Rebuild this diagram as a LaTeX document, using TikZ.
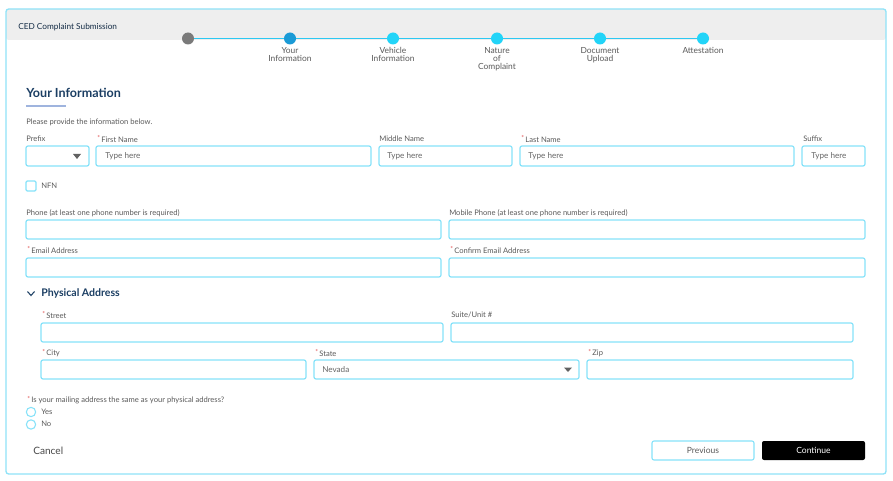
\documentclass[tikz,border=0pt]{standalone}
\usepackage{fontspec}
\setmainfont{Lato}
\definecolor{framec}{HTML}{8FE3F8}
\definecolor{fieldc}{HTML}{86E2F9}
\definecolor{headbg}{HTML}{EEEEEE}
\definecolor{linec}{HTML}{2CC8F2}
\definecolor{stepc}{HTML}{22D4F8}
\definecolor{activec}{HTML}{1A9AD6}
\definecolor{grayc}{HTML}{7A7A7A}
\definecolor{headc}{HTML}{1B3E63}
\definecolor{labc}{HTML}{5A5A5A}
\definecolor{phc}{HTML}{666666}
\definecolor{reqc}{HTML}{E04848}
\definecolor{ulc}{HTML}{9FB4DE}
\newcommand{\req}{{\color{reqc}\raisebox{0.3ex}{\fontsize{5}{5}\selectfont *}}\,}
\begin{document}
\begin{tikzpicture}[x=0.75pt,y=-0.75pt,
  lbl/.style={anchor=west, inner sep=0, text=labc, font=\fontsize{5.7}{7}\selectfont},
  ph/.style={anchor=west, inner sep=0, text=phc, font=\fontsize{6.1}{8}\selectfont},
  steplbl/.style={anchor=north, inner sep=0, align=center, text=labc, font=\fontsize{6.3}{6}\selectfont},
  stepdot/.style={circle, inner sep=0, minimum size=9pt, fill=stepc},
  field/.style={draw=fieldc, line width=0.9pt, rounded corners=1.5pt},
  heading/.style={anchor=west, inner sep=0, text=headc, font=\bfseries\fontsize{9.4}{11}\selectfont},
  radio/.style={circle, draw=fieldc, line width=0.8pt, inner sep=0, minimum size=7pt},
  btn/.style={rounded corners=1.5pt, minimum width=76.5pt, minimum height=14.25pt, inner sep=0, font=\fontsize{6.4}{8}\selectfont}
]
\useasboundingbox (0,0) rectangle (893,481);
\fill[white] (0,0) rectangle (893,481);
% frame and header
\fill[headbg, rounded corners=2pt] (6,9) rectangle (886,40);
\draw[framec, line width=1pt, rounded corners=2pt] (6,9) rectangle (886,474);
\node[anchor=west, inner sep=0, text=headc!70!black, font=\fontsize{6.2}{8}\selectfont] (title) at (18,27) {CED Complaint Submission};
% stepper
\coordinate (c0) at (188,38.5);
\coordinate (c5) at (703,38.5);
\draw[linec, line width=1.4pt] (c0) -- (c5);
\node[stepdot, fill=grayc] (s0) at (c0) {};
\node[stepdot, fill=activec] (s1) at (290,38.5) {};
\node[stepdot] (s2) at (393,38.5) {};
\node[stepdot] (s3) at (497,38.5) {};
\node[stepdot] (s4) at (600,38.5) {};
\node[stepdot] (s5) at (c5) {};
\node[steplbl] (l1) at (290,47.5) {Your\\Information};
\node[steplbl] (l2) at (393,47.5) {Vehicle\\Information};
\node[steplbl] (l3) at (497,47.5) {Nature\\of\\Complaint};
\node[steplbl] (l4) at (600,47.5) {Document\\Upload};
\node[steplbl] (l5) at (703,47.5) {Attestation};
% heading
\node[heading] (h1) at (26,92.5) {Your Information};
\draw[ulc, line width=0.9pt] (26,106) -- (66,106);
\node[lbl] (intro) at (26,122) {Please provide the information below.};
% name row
\node[lbl] (lpre) at (26,139) {Prefix};
\node[lbl] (lfn) at (97,139) {\req First Name};
\node[lbl] (lmn) at (379,139) {Middle Name};
\node[lbl] (lln) at (521,139) {\req Last Name};
\node[lbl] (lsf) at (803,139) {Suffix};
\draw[field] (26,146) rectangle (89,166);
\fill[grayc!80!black] (73,154) -- (81,154) -- (77,159) -- cycle;
\draw[field] (96,146) rectangle (371,166);
\node[ph] (pfn) at (105,156) {Type here};
\draw[field] (379,146) rectangle (512,166);
\node[ph] (pmn) at (387,156) {Type here};
\draw[field] (520,146) rectangle (794,166);
\node[ph] (pln) at (528,156) {Type here};
\draw[field] (802,146) rectangle (865,166);
\node[ph] (psf) at (811,156) {Type here};
% NFN
\draw[field, rounded corners=1pt] (26,181) rectangle (36,191);
\node[lbl] (nfn) at (41,186) {NFN};
% phones
\node[lbl] (lph) at (26,213) {Phone (at least one phone number is required)};
\node[lbl] (lmp) at (449,213) {Mobile Phone (at least one phone number is required)};
\draw[field] (26,220) rectangle (441,239);
\draw[field] (449,220) rectangle (865,239);
% email
\node[lbl] (lem) at (27,250) {\req Email Address};
\node[lbl] (lce) at (450,250) {\req Confirm Email Address};
\draw[field] (26,258) rectangle (441,277);
\draw[field] (449,258) rectangle (865,277);
% physical address
\draw[headc, line width=0.8pt] (27.5,291.5) -- (31,295.5) -- (34.5,291.5);
\node[heading, font=\bfseries\fontsize{7.9}{10}\selectfont] (h2) at (41,293.5) {Physical Address};
\node[lbl] (lst) at (42,315) {\req Street};
\node[lbl] (lsu) at (451,315) {Suite/Unit \#};
\draw[field] (41,323) rectangle (443,342);
\draw[field] (451,323) rectangle (853,342);
\node[lbl] (lci) at (42,353) {\req City};
\node[lbl] (lsa) at (315,353) {\req State};
\node[lbl] (lzi) at (588,353) {\req Zip};
\draw[field] (41,360) rectangle (306,379);
\draw[field] (314,360) rectangle (579,379);
\node[ph] (nev) at (322,369.5) {Nevada};
\fill[grayc!80!black] (564,367.5) -- (572,367.5) -- (568,372) -- cycle;
\draw[field] (587,360) rectangle (853,379);
% mailing question
\node[lbl] (lq) at (27,400) {\req Is your mailing address the same as your physical address?};
\node[radio] (ry) at (31,412) {};
\node[lbl] (ly) at (41,411.5) {Yes};
\node[radio] (rn) at (31,424.5) {};
\node[lbl] (ln) at (41,424) {No};
% buttons
\node[anchor=west, inner sep=0, text=labc!80!black, font=\fontsize{7.6}{9}\selectfont] (cancel) at (33,450.5) {Cancel};
\node[btn, draw=fieldc, line width=0.8pt, text=labc] (prev) at (703,450.5) {Previous};
\node[btn, fill=black, text=white, minimum width=77.25pt] (cont) at (813.5,450.5) {Continue};
\end{tikzpicture}
\end{document}
